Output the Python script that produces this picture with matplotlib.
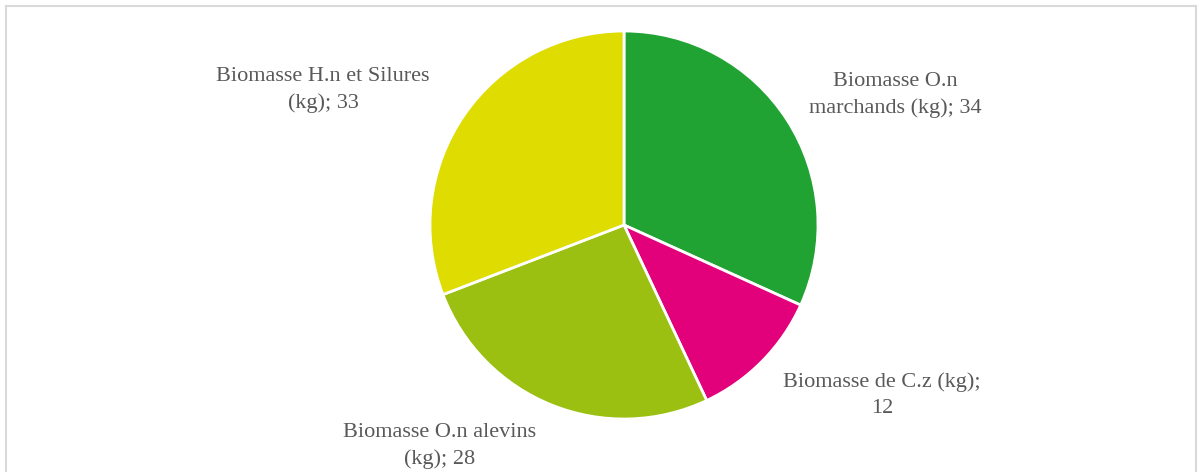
import matplotlib.pyplot as plt
from matplotlib.patches import Rectangle

labels = ["Biomasse O.n\nmarchands (kg); 34",
          "Biomasse de C.z (kg);\n12",
          "Biomasse O.n alevins\n(kg); 28",
          "Biomasse H.n et Silures\n(kg); 33"]
values = [34, 12, 28, 33]
colors = ["#21a334", "#e2007b", "#9bc011", "#dedc00"]
# label centers in pixels (x, y from top)
label_pos = [(895, 95), (882, 395), (440, 446), (323, 90)]

W, H = 1202, 472
fig = plt.figure(figsize=(W / 100, H / 100), dpi=100)
ax = fig.add_axes([0, 0, 1, 1])
ax.set_xlim(0, W)
ax.set_ylim(0, H)
ax.axis("off")

ax.add_patch(Rectangle((6, -10), 1190, H - 6 + 10, fill=False,
                       edgecolor="#d9d9d9", linewidth=1.5))

ax.pie(values, colors=colors, startangle=90, counterclock=False,
       center=(624, H - 225), radius=194,
       wedgeprops=dict(edgecolor="white", linewidth=2))
ax.set_xlim(0, W)
ax.set_ylim(0, H)
ax.set_aspect("equal")

for lab, (x, y) in zip(labels, label_pos):
    ax.text(x, H - y, lab, ha="center", va="center", fontsize=16,
            family="Liberation Serif", color="#595959", linespacing=1.45)

fig.savefig("out.png", dpi=100)
